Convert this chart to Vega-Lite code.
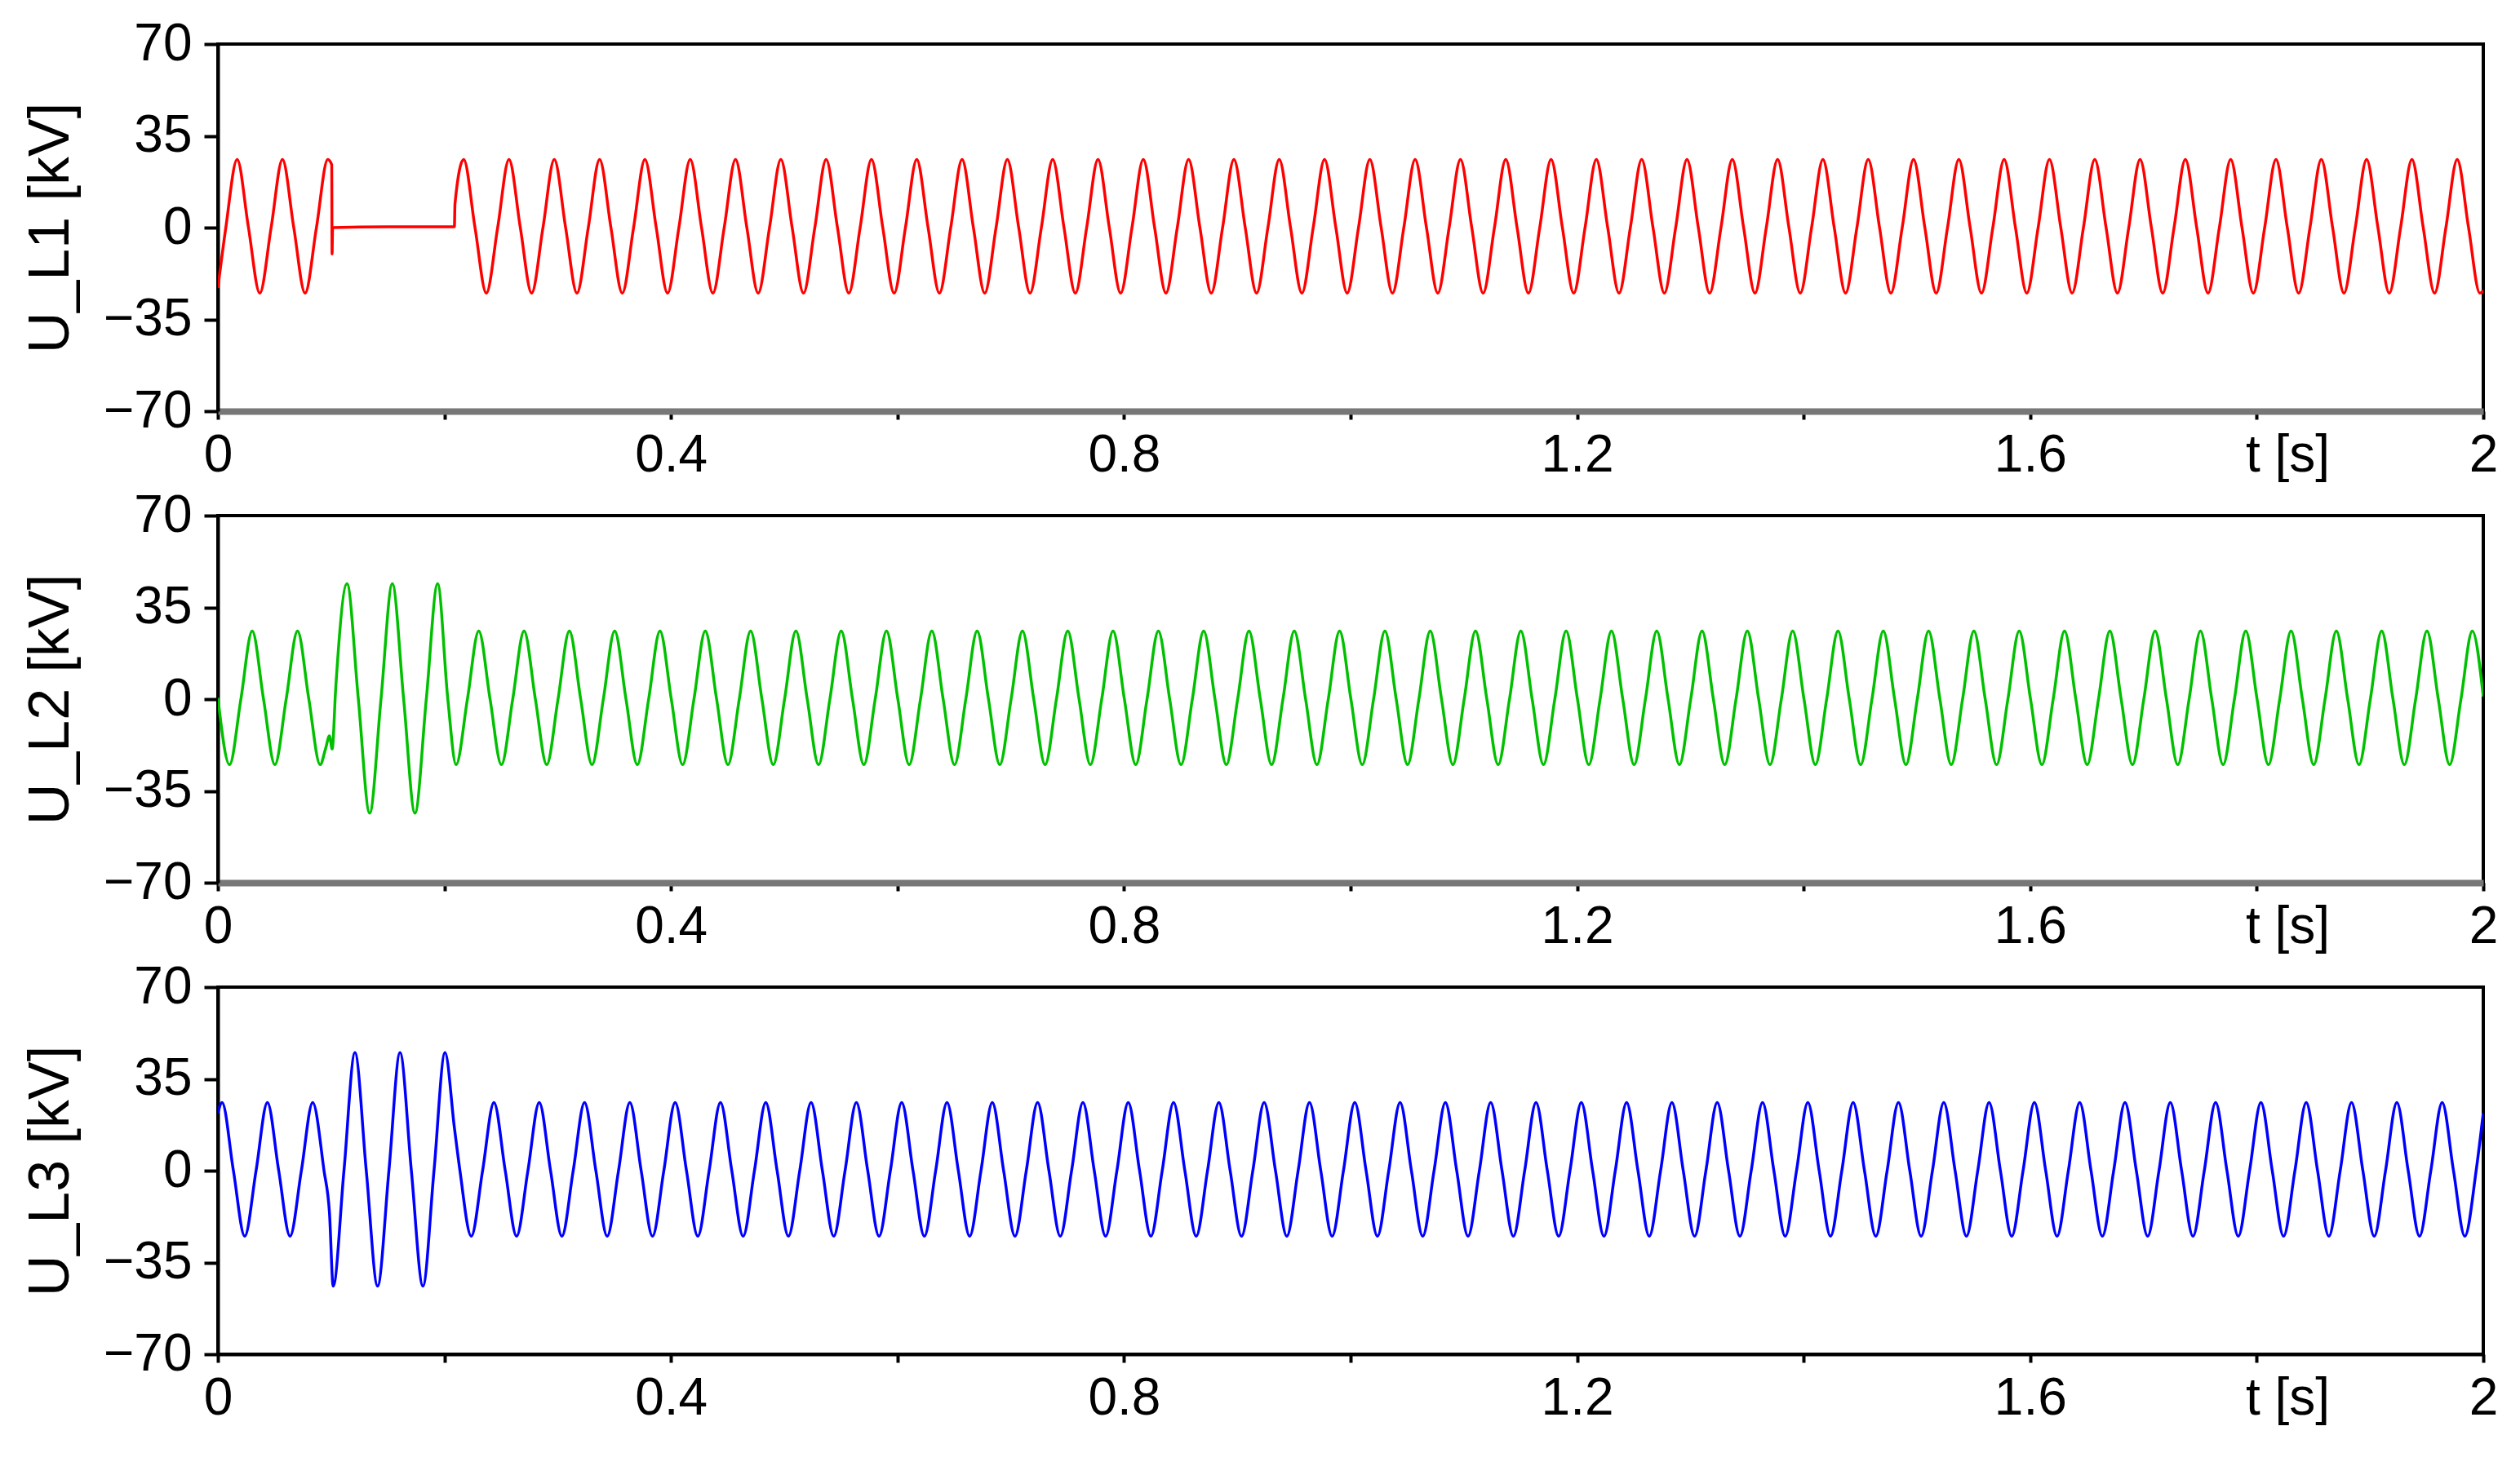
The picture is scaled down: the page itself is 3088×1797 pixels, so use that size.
{
"$schema":"https://vega.github.io/schema/vega-lite/v6.json",
"background":"white",
"padding":{"left":25,"top":20,"right":0,"bottom":0},
"spacing":128,
"bounds":"flush",
"config":{
 "view":{"stroke":"black","strokeWidth":4},
 "font":"Liberation Sans",
 "axis":{"labelFont":"Liberation Sans","labelFontSize":64,"labelColor":"black","titleFont":"Liberation Sans","titleFontSize":70,"titleFontWeight":"normal","titleColor":"black","domainColor":"black","domainWidth":4,"tickColor":"black","tickWidth":4,"grid":false,"labelOverlap":false,"labelBound":false,"labelFlush":false}
},
"datasets":{
"L1":[
{"t":0,"v":-23},{"t":0.007,"v":0},{"t":0.017,"v":26},{"t":0.027,"v":0},{"t":0.037,"v":-25},{"t":0.047,"v":0},{"t":0.057,"v":26},{"t":0.067,"v":0},{"t":0.077,"v":-25},{"t":0.087,"v":0},{"t":0.097,"v":26},{"t":0.1005,"v":24},{"t":0.1008,"v":-10},{"t":0.1013,"v":0},{"t":0.15,"v":0.3},{"t":0.2088,"v":0.3},{"t":0.2093,"v":9},{"t":0.217,"v":26},{"t":0.227,"v":0},{"t":0.237,"v":-25},
{"t":0.247,"v":0},{"t":0.257,"v":26},{"t":0.267,"v":0},{"t":0.277,"v":-25},
{"t":0.287,"v":0},{"t":0.297,"v":26},{"t":0.307,"v":0},{"t":0.317,"v":-25},
{"t":0.327,"v":0},{"t":0.337,"v":26},{"t":0.347,"v":0},{"t":0.357,"v":-25},
{"t":0.367,"v":0},{"t":0.377,"v":26},{"t":0.387,"v":0},{"t":0.397,"v":-25},
{"t":0.407,"v":0},{"t":0.417,"v":26},{"t":0.427,"v":0},{"t":0.437,"v":-25},
{"t":0.447,"v":0},{"t":0.457,"v":26},{"t":0.467,"v":0},{"t":0.477,"v":-25},
{"t":0.487,"v":0},{"t":0.497,"v":26},{"t":0.507,"v":0},{"t":0.517,"v":-25},
{"t":0.527,"v":0},{"t":0.537,"v":26},{"t":0.547,"v":0},{"t":0.557,"v":-25},
{"t":0.567,"v":0},{"t":0.577,"v":26},{"t":0.587,"v":0},{"t":0.597,"v":-25},
{"t":0.607,"v":0},{"t":0.617,"v":26},{"t":0.627,"v":0},{"t":0.637,"v":-25},
{"t":0.647,"v":0},{"t":0.657,"v":26},{"t":0.667,"v":0},{"t":0.677,"v":-25},
{"t":0.687,"v":0},{"t":0.697,"v":26},{"t":0.707,"v":0},{"t":0.717,"v":-25},
{"t":0.727,"v":0},{"t":0.737,"v":26},{"t":0.747,"v":0},{"t":0.757,"v":-25},
{"t":0.767,"v":0},{"t":0.777,"v":26},{"t":0.787,"v":0},{"t":0.797,"v":-25},
{"t":0.807,"v":0},{"t":0.817,"v":26},{"t":0.827,"v":0},{"t":0.837,"v":-25},
{"t":0.847,"v":0},{"t":0.857,"v":26},{"t":0.867,"v":0},{"t":0.877,"v":-25},
{"t":0.887,"v":0},{"t":0.897,"v":26},{"t":0.907,"v":0},{"t":0.917,"v":-25},
{"t":0.927,"v":0},{"t":0.937,"v":26},{"t":0.947,"v":0},{"t":0.957,"v":-25},
{"t":0.967,"v":0},{"t":0.977,"v":26},{"t":0.987,"v":0},{"t":0.997,"v":-25},
{"t":1.007,"v":0},{"t":1.017,"v":26},{"t":1.027,"v":0},{"t":1.037,"v":-25},
{"t":1.047,"v":0},{"t":1.057,"v":26},{"t":1.067,"v":0},{"t":1.077,"v":-25},
{"t":1.087,"v":0},{"t":1.097,"v":26},{"t":1.107,"v":0},{"t":1.117,"v":-25},
{"t":1.127,"v":0},{"t":1.137,"v":26},{"t":1.147,"v":0},{"t":1.157,"v":-25},
{"t":1.167,"v":0},{"t":1.177,"v":26},{"t":1.187,"v":0},{"t":1.197,"v":-25},
{"t":1.207,"v":0},{"t":1.217,"v":26},{"t":1.227,"v":0},{"t":1.237,"v":-25},
{"t":1.247,"v":0},{"t":1.257,"v":26},{"t":1.267,"v":0},{"t":1.277,"v":-25},
{"t":1.287,"v":0},{"t":1.297,"v":26},{"t":1.307,"v":0},{"t":1.317,"v":-25},
{"t":1.327,"v":0},{"t":1.337,"v":26},{"t":1.347,"v":0},{"t":1.357,"v":-25},
{"t":1.367,"v":0},{"t":1.377,"v":26},{"t":1.387,"v":0},{"t":1.397,"v":-25},
{"t":1.407,"v":0},{"t":1.417,"v":26},{"t":1.427,"v":0},{"t":1.437,"v":-25},
{"t":1.447,"v":0},{"t":1.457,"v":26},{"t":1.467,"v":0},{"t":1.477,"v":-25},
{"t":1.487,"v":0},{"t":1.497,"v":26},{"t":1.507,"v":0},{"t":1.517,"v":-25},
{"t":1.527,"v":0},{"t":1.537,"v":26},{"t":1.547,"v":0},{"t":1.557,"v":-25},
{"t":1.567,"v":0},{"t":1.577,"v":26},{"t":1.587,"v":0},{"t":1.597,"v":-25},
{"t":1.607,"v":0},{"t":1.617,"v":26},{"t":1.627,"v":0},{"t":1.637,"v":-25},
{"t":1.647,"v":0},{"t":1.657,"v":26},{"t":1.667,"v":0},{"t":1.677,"v":-25},
{"t":1.687,"v":0},{"t":1.697,"v":26},{"t":1.707,"v":0},{"t":1.717,"v":-25},
{"t":1.727,"v":0},{"t":1.737,"v":26},{"t":1.747,"v":0},{"t":1.757,"v":-25},
{"t":1.767,"v":0},{"t":1.777,"v":26},{"t":1.787,"v":0},{"t":1.797,"v":-25},
{"t":1.807,"v":0},{"t":1.817,"v":26},{"t":1.827,"v":0},{"t":1.837,"v":-25},
{"t":1.847,"v":0},{"t":1.857,"v":26},{"t":1.867,"v":0},{"t":1.877,"v":-25},
{"t":1.887,"v":0},{"t":1.897,"v":26},{"t":1.907,"v":0},{"t":1.917,"v":-25},
{"t":1.927,"v":0},{"t":1.937,"v":26},{"t":1.947,"v":0},{"t":1.957,"v":-25},
{"t":1.967,"v":0},{"t":1.977,"v":26},{"t":1.987,"v":0},{"t":1.997,"v":-25},
{"t":2,"v":-24}
],
"L2":[
{"t":0,"v":0.5},{"t":0.0103,"v":-25},{"t":0.0203,"v":0},{"t":0.0303,"v":26},{"t":0.0403,"v":0},{"t":0.0503,"v":-25},{"t":0.0603,"v":0},{"t":0.0703,"v":26},{"t":0.0803,"v":0},{"t":0.0903,"v":-25},
{"t":0.095,"v":-19},{"t":0.0985,"v":-14},{"t":0.1009,"v":-19},{"t":0.104,"v":4},{"t":0.114,"v":44},{"t":0.124,"v":0},{"t":0.134,"v":-43.5},{"t":0.144,"v":0},{"t":0.154,"v":44},{"t":0.164,"v":0},{"t":0.174,"v":-43.5},{"t":0.184,"v":0},{"t":0.194,"v":44},{"t":0.203,"v":0},
{"t":0.2103,"v":-25},{"t":0.2203,"v":0},{"t":0.2303,"v":26},
{"t":0.2403,"v":0},{"t":0.2503,"v":-25},{"t":0.2603,"v":0},{"t":0.2703,"v":26},
{"t":0.2803,"v":0},{"t":0.2903,"v":-25},{"t":0.3003,"v":0},{"t":0.3103,"v":26},
{"t":0.3203,"v":0},{"t":0.3303,"v":-25},{"t":0.3403,"v":0},{"t":0.3503,"v":26},
{"t":0.3603,"v":0},{"t":0.3703,"v":-25},{"t":0.3803,"v":0},{"t":0.3903,"v":26},
{"t":0.4003,"v":0},{"t":0.4103,"v":-25},{"t":0.4203,"v":0},{"t":0.4303,"v":26},
{"t":0.4403,"v":0},{"t":0.4503,"v":-25},{"t":0.4603,"v":0},{"t":0.4703,"v":26},
{"t":0.4803,"v":0},{"t":0.4903,"v":-25},{"t":0.5003,"v":0},{"t":0.5103,"v":26},
{"t":0.5203,"v":0},{"t":0.5303,"v":-25},{"t":0.5403,"v":0},{"t":0.5503,"v":26},
{"t":0.5603,"v":0},{"t":0.5703,"v":-25},{"t":0.5803,"v":0},{"t":0.5903,"v":26},
{"t":0.6003,"v":0},{"t":0.6103,"v":-25},{"t":0.6203,"v":0},{"t":0.6303,"v":26},
{"t":0.6403,"v":0},{"t":0.6503,"v":-25},{"t":0.6603,"v":0},{"t":0.6703,"v":26},
{"t":0.6803,"v":0},{"t":0.6903,"v":-25},{"t":0.7003,"v":0},{"t":0.7103,"v":26},
{"t":0.7203,"v":0},{"t":0.7303,"v":-25},{"t":0.7403,"v":0},{"t":0.7503,"v":26},
{"t":0.7603,"v":0},{"t":0.7703,"v":-25},{"t":0.7803,"v":0},{"t":0.7903,"v":26},
{"t":0.8003,"v":0},{"t":0.8103,"v":-25},{"t":0.8203,"v":0},{"t":0.8303,"v":26},
{"t":0.8403,"v":0},{"t":0.8503,"v":-25},{"t":0.8603,"v":0},{"t":0.8703,"v":26},
{"t":0.8803,"v":0},{"t":0.8903,"v":-25},{"t":0.9003,"v":0},{"t":0.9103,"v":26},
{"t":0.9203,"v":0},{"t":0.9303,"v":-25},{"t":0.9403,"v":0},{"t":0.9503,"v":26},
{"t":0.9603,"v":0},{"t":0.9703,"v":-25},{"t":0.9803,"v":0},{"t":0.9903,"v":26},
{"t":1.0003,"v":0},{"t":1.0103,"v":-25},{"t":1.0203,"v":0},{"t":1.0303,"v":26},
{"t":1.0403,"v":0},{"t":1.0503,"v":-25},{"t":1.0603,"v":0},{"t":1.0703,"v":26},
{"t":1.0803,"v":0},{"t":1.0903,"v":-25},{"t":1.1003,"v":0},{"t":1.1103,"v":26},
{"t":1.1203,"v":0},{"t":1.1303,"v":-25},{"t":1.1403,"v":0},{"t":1.1503,"v":26},
{"t":1.1603,"v":0},{"t":1.1703,"v":-25},{"t":1.1803,"v":0},{"t":1.1903,"v":26},
{"t":1.2003,"v":0},{"t":1.2103,"v":-25},{"t":1.2203,"v":0},{"t":1.2303,"v":26},
{"t":1.2403,"v":0},{"t":1.2503,"v":-25},{"t":1.2603,"v":0},{"t":1.2703,"v":26},
{"t":1.2803,"v":0},{"t":1.2903,"v":-25},{"t":1.3003,"v":0},{"t":1.3103,"v":26},
{"t":1.3203,"v":0},{"t":1.3303,"v":-25},{"t":1.3403,"v":0},{"t":1.3503,"v":26},
{"t":1.3603,"v":0},{"t":1.3703,"v":-25},{"t":1.3803,"v":0},{"t":1.3903,"v":26},
{"t":1.4003,"v":0},{"t":1.4103,"v":-25},{"t":1.4203,"v":0},{"t":1.4303,"v":26},
{"t":1.4403,"v":0},{"t":1.4503,"v":-25},{"t":1.4603,"v":0},{"t":1.4703,"v":26},
{"t":1.4803,"v":0},{"t":1.4903,"v":-25},{"t":1.5003,"v":0},{"t":1.5103,"v":26},
{"t":1.5203,"v":0},{"t":1.5303,"v":-25},{"t":1.5403,"v":0},{"t":1.5503,"v":26},
{"t":1.5603,"v":0},{"t":1.5703,"v":-25},{"t":1.5803,"v":0},{"t":1.5903,"v":26},
{"t":1.6003,"v":0},{"t":1.6103,"v":-25},{"t":1.6203,"v":0},{"t":1.6303,"v":26},
{"t":1.6403,"v":0},{"t":1.6503,"v":-25},{"t":1.6603,"v":0},{"t":1.6703,"v":26},
{"t":1.6803,"v":0},{"t":1.6903,"v":-25},{"t":1.7003,"v":0},{"t":1.7103,"v":26},
{"t":1.7203,"v":0},{"t":1.7303,"v":-25},{"t":1.7403,"v":0},{"t":1.7503,"v":26},
{"t":1.7603,"v":0},{"t":1.7703,"v":-25},{"t":1.7803,"v":0},{"t":1.7903,"v":26},
{"t":1.8003,"v":0},{"t":1.8103,"v":-25},{"t":1.8203,"v":0},{"t":1.8303,"v":26},
{"t":1.8403,"v":0},{"t":1.8503,"v":-25},{"t":1.8603,"v":0},{"t":1.8703,"v":26},
{"t":1.8803,"v":0},{"t":1.8903,"v":-25},{"t":1.9003,"v":0},{"t":1.9103,"v":26},
{"t":1.9203,"v":0},{"t":1.9303,"v":-25},{"t":1.9403,"v":0},{"t":1.9503,"v":26},
{"t":1.9603,"v":0},{"t":1.9703,"v":-25},{"t":1.9803,"v":0},{"t":1.9903,"v":26},
{"t":2,"v":1}
],
"L3":[
{"t":0,"v":22},{"t":0.0037,"v":26},{"t":0.0137,"v":0},{"t":0.0237,"v":-25},{"t":0.0337,"v":0},{"t":0.0437,"v":26},{"t":0.0537,"v":0},{"t":0.0637,"v":-25},{"t":0.0737,"v":0},{"t":0.0837,"v":26},{"t":0.0937,"v":0},
{"t":0.0985,"v":-16},{"t":0.1018,"v":-44},{"t":0.1113,"v":0},{"t":0.121,"v":45},{"t":0.131,"v":0},{"t":0.141,"v":-44},{"t":0.151,"v":0},{"t":0.1608,"v":45},{"t":0.1708,"v":0},{"t":0.181,"v":-44},{"t":0.1908,"v":0},{"t":0.2005,"v":45},{"t":0.2089,"v":16},
{"t":0.2137,"v":0},{"t":0.2237,"v":-25},{"t":0.2337,"v":0},
{"t":0.2437,"v":26},{"t":0.2537,"v":0},{"t":0.2637,"v":-25},{"t":0.2737,"v":0},
{"t":0.2837,"v":26},{"t":0.2937,"v":0},{"t":0.3037,"v":-25},{"t":0.3137,"v":0},
{"t":0.3237,"v":26},{"t":0.3337,"v":0},{"t":0.3437,"v":-25},{"t":0.3537,"v":0},
{"t":0.3637,"v":26},{"t":0.3737,"v":0},{"t":0.3837,"v":-25},{"t":0.3937,"v":0},
{"t":0.4037,"v":26},{"t":0.4137,"v":0},{"t":0.4237,"v":-25},{"t":0.4337,"v":0},
{"t":0.4437,"v":26},{"t":0.4537,"v":0},{"t":0.4637,"v":-25},{"t":0.4737,"v":0},
{"t":0.4837,"v":26},{"t":0.4937,"v":0},{"t":0.5037,"v":-25},{"t":0.5137,"v":0},
{"t":0.5237,"v":26},{"t":0.5337,"v":0},{"t":0.5437,"v":-25},{"t":0.5537,"v":0},
{"t":0.5637,"v":26},{"t":0.5737,"v":0},{"t":0.5837,"v":-25},{"t":0.5937,"v":0},
{"t":0.6037,"v":26},{"t":0.6137,"v":0},{"t":0.6237,"v":-25},{"t":0.6337,"v":0},
{"t":0.6437,"v":26},{"t":0.6537,"v":0},{"t":0.6637,"v":-25},{"t":0.6737,"v":0},
{"t":0.6837,"v":26},{"t":0.6937,"v":0},{"t":0.7037,"v":-25},{"t":0.7137,"v":0},
{"t":0.7237,"v":26},{"t":0.7337,"v":0},{"t":0.7437,"v":-25},{"t":0.7537,"v":0},
{"t":0.7637,"v":26},{"t":0.7737,"v":0},{"t":0.7837,"v":-25},{"t":0.7937,"v":0},
{"t":0.8037,"v":26},{"t":0.8137,"v":0},{"t":0.8237,"v":-25},{"t":0.8337,"v":0},
{"t":0.8437,"v":26},{"t":0.8537,"v":0},{"t":0.8637,"v":-25},{"t":0.8737,"v":0},
{"t":0.8837,"v":26},{"t":0.8937,"v":0},{"t":0.9037,"v":-25},{"t":0.9137,"v":0},
{"t":0.9237,"v":26},{"t":0.9337,"v":0},{"t":0.9437,"v":-25},{"t":0.9537,"v":0},
{"t":0.9637,"v":26},{"t":0.9737,"v":0},{"t":0.9837,"v":-25},{"t":0.9937,"v":0},
{"t":1.0037,"v":26},{"t":1.0137,"v":0},{"t":1.0237,"v":-25},{"t":1.0337,"v":0},
{"t":1.0437,"v":26},{"t":1.0537,"v":0},{"t":1.0637,"v":-25},{"t":1.0737,"v":0},
{"t":1.0837,"v":26},{"t":1.0937,"v":0},{"t":1.1037,"v":-25},{"t":1.1137,"v":0},
{"t":1.1237,"v":26},{"t":1.1337,"v":0},{"t":1.1437,"v":-25},{"t":1.1537,"v":0},
{"t":1.1637,"v":26},{"t":1.1737,"v":0},{"t":1.1837,"v":-25},{"t":1.1937,"v":0},
{"t":1.2037,"v":26},{"t":1.2137,"v":0},{"t":1.2237,"v":-25},{"t":1.2337,"v":0},
{"t":1.2437,"v":26},{"t":1.2537,"v":0},{"t":1.2637,"v":-25},{"t":1.2737,"v":0},
{"t":1.2837,"v":26},{"t":1.2937,"v":0},{"t":1.3037,"v":-25},{"t":1.3137,"v":0},
{"t":1.3237,"v":26},{"t":1.3337,"v":0},{"t":1.3437,"v":-25},{"t":1.3537,"v":0},
{"t":1.3637,"v":26},{"t":1.3737,"v":0},{"t":1.3837,"v":-25},{"t":1.3937,"v":0},
{"t":1.4037,"v":26},{"t":1.4137,"v":0},{"t":1.4237,"v":-25},{"t":1.4337,"v":0},
{"t":1.4437,"v":26},{"t":1.4537,"v":0},{"t":1.4637,"v":-25},{"t":1.4737,"v":0},
{"t":1.4837,"v":26},{"t":1.4937,"v":0},{"t":1.5037,"v":-25},{"t":1.5137,"v":0},
{"t":1.5237,"v":26},{"t":1.5337,"v":0},{"t":1.5437,"v":-25},{"t":1.5537,"v":0},
{"t":1.5637,"v":26},{"t":1.5737,"v":0},{"t":1.5837,"v":-25},{"t":1.5937,"v":0},
{"t":1.6037,"v":26},{"t":1.6137,"v":0},{"t":1.6237,"v":-25},{"t":1.6337,"v":0},
{"t":1.6437,"v":26},{"t":1.6537,"v":0},{"t":1.6637,"v":-25},{"t":1.6737,"v":0},
{"t":1.6837,"v":26},{"t":1.6937,"v":0},{"t":1.7037,"v":-25},{"t":1.7137,"v":0},
{"t":1.7237,"v":26},{"t":1.7337,"v":0},{"t":1.7437,"v":-25},{"t":1.7537,"v":0},
{"t":1.7637,"v":26},{"t":1.7737,"v":0},{"t":1.7837,"v":-25},{"t":1.7937,"v":0},
{"t":1.8037,"v":26},{"t":1.8137,"v":0},{"t":1.8237,"v":-25},{"t":1.8337,"v":0},
{"t":1.8437,"v":26},{"t":1.8537,"v":0},{"t":1.8637,"v":-25},{"t":1.8737,"v":0},
{"t":1.8837,"v":26},{"t":1.8937,"v":0},{"t":1.9037,"v":-25},{"t":1.9137,"v":0},
{"t":1.9237,"v":26},{"t":1.9337,"v":0},{"t":1.9437,"v":-25},{"t":1.9537,"v":0},
{"t":1.9637,"v":26},{"t":1.9737,"v":0},{"t":1.9837,"v":-25},{"t":1.9937,"v":0},
{"t":2,"v":22}
]
},
"vconcat":[
{"width":2776,"height":450,"data":{"name":"L1"},
 "mark":{"type":"line","color":"#ff0000","strokeWidth":3.5,"interpolate":"monotone","clip":true},
 "encoding":{
  "x":{"field":"t","type":"quantitative","scale":{"domain":[0,2],"nice":false,"zero":false},
   "axis":{"title":null,"values":[0,0.2,0.4,0.6,0.8,1,1.2,1.4,1.6,1.8,2],"tickSize":10,"labelPadding":12,"domainColor":"#777777","domainWidth":8,
    "labelExpr":"datum.value == 1.8 ? 't [s]' : (datum.value == 0 || datum.value == 0.4 || datum.value == 0.8 || datum.value == 1.2 || datum.value == 1.6 || datum.value == 2) ? format(datum.value, '~g') : ''",
    "labelAlign":{"condition":{"test":"datum.value == 1.8","value":"left"},"value":"center"},
    "labelOffset":{"condition":{"test":"datum.value == 1.8","value":-14},"value":0}}},
  "y":{"field":"v","type":"quantitative","scale":{"domain":[-70,70],"nice":false,"zero":false},
   "axis":{"title":"U_L1 [kV]","values":[-70,-35,0,35,70],"format":"d","tickSize":17,"labelPadding":15,"titlePadding":28}}
 }},
{"width":2776,"height":450,"data":{"name":"L2"},
 "mark":{"type":"line","color":"#00c000","strokeWidth":3.5,"interpolate":"monotone","clip":true},
 "encoding":{
  "x":{"field":"t","type":"quantitative","scale":{"domain":[0,2],"nice":false,"zero":false},
   "axis":{"title":null,"values":[0,0.2,0.4,0.6,0.8,1,1.2,1.4,1.6,1.8,2],"tickSize":10,"labelPadding":12,"domainColor":"#777777","domainWidth":8,
    "labelExpr":"datum.value == 1.8 ? 't [s]' : (datum.value == 0 || datum.value == 0.4 || datum.value == 0.8 || datum.value == 1.2 || datum.value == 1.6 || datum.value == 2) ? format(datum.value, '~g') : ''",
    "labelAlign":{"condition":{"test":"datum.value == 1.8","value":"left"},"value":"center"},
    "labelOffset":{"condition":{"test":"datum.value == 1.8","value":-14},"value":0}}},
  "y":{"field":"v","type":"quantitative","scale":{"domain":[-70,70],"nice":false,"zero":false},
   "axis":{"title":"U_L2 [kV]","values":[-70,-35,0,35,70],"format":"d","tickSize":17,"labelPadding":15,"titlePadding":28}}
 }},
{"width":2776,"height":450,"data":{"name":"L3"},
 "mark":{"type":"line","color":"#0000ff","strokeWidth":3.5,"interpolate":"monotone","clip":true},
 "encoding":{
  "x":{"field":"t","type":"quantitative","scale":{"domain":[0,2],"nice":false,"zero":false},
   "axis":{"title":null,"values":[0,0.2,0.4,0.6,0.8,1,1.2,1.4,1.6,1.8,2],"tickSize":10,"labelPadding":12,
    "labelExpr":"datum.value == 1.8 ? 't [s]' : (datum.value == 0 || datum.value == 0.4 || datum.value == 0.8 || datum.value == 1.2 || datum.value == 1.6 || datum.value == 2) ? format(datum.value, '~g') : ''",
    "labelAlign":{"condition":{"test":"datum.value == 1.8","value":"left"},"value":"center"},
    "labelOffset":{"condition":{"test":"datum.value == 1.8","value":-14},"value":0}}},
  "y":{"field":"v","type":"quantitative","scale":{"domain":[-70,70],"nice":false,"zero":false},
   "axis":{"title":"U_L3 [kV]","values":[-70,-35,0,35,70],"format":"d","tickSize":17,"labelPadding":15,"titlePadding":28}}
 }}
]
}
